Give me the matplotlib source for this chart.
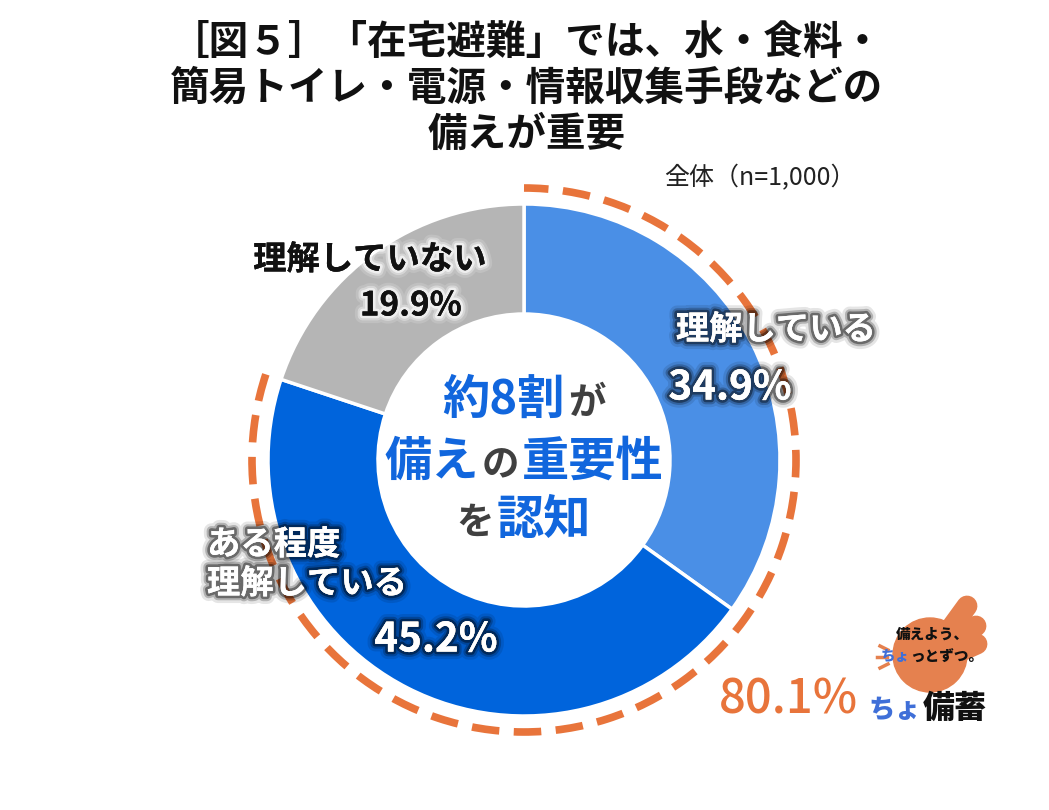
import matplotlib
matplotlib.use("Agg")
import matplotlib.pyplot as plt
import matplotlib.patheffects as pe
from matplotlib.patches import Arc, Circle
from matplotlib.offsetbox import TextArea, HPacker, AnnotationBbox

plt.rcParams['font.family'] = ['Noto Sans CJK JP', 'DejaVu Sans']

# ---- data ----
categories = ["理解している", "ある程度\n理解している", "理解していない"]
values = [34.9, 45.2, 19.9]
colors = ["#4A8FE6", "#0064DC", "#B5B5B5"]
combined_label = "80.1%"
title_lines = ["［図５］「在宅避難」では、水・食料・",
               "簡易トイレ・電源・情報収集手段などの",
               "備えが重要"]
subtitle = "全体（n=1,000）"

W, H = 1049, 810
fig = plt.figure(figsize=(W / 100, H / 100), dpi=100)
ax = fig.add_axes([0, 0, 1, 1])

def Y(y):
    return H - y

cx, cy = 524, Y(460)
R = 256
ring = 110

ax.pie(values, colors=colors, startangle=90, counterclock=False,
       center=(cx, cy), radius=R, frame=True,
       wedgeprops=dict(width=ring, edgecolor='white', linewidth=2.5))
ax.set_xlim(0, W)
ax.set_ylim(0, H)
ax.set_aspect('equal')
ax.axis('off')

# dashed arc covering the two "understand" categories
total = sum(values[:2])
end_ang = 90
start_ang = 90 - total / 100 * 360
arc = Arc((cx, cy), 2 * 272, 2 * 272, theta1=start_ang, theta2=end_ang,
          color="#E8743B", lw=5.5, linestyle=(0, (3.6, 1.9)))
ax.add_patch(arc)

# title
for i, line in enumerate(title_lines):
    ax.text(W / 2 + 2, Y(42 + i * 46), line, ha='center', va='center',
            fontsize=28.5, fontweight='bold', color='#111111')
ax.text(760, Y(178), subtitle, ha='center', va='center', fontsize=18,
        color='#222222')

dark_glow = [pe.withStroke(linewidth=11, foreground=(0, 0, 0, 0.10)),
             pe.withStroke(linewidth=7, foreground=(0, 0, 0, 0.22)),
             pe.withStroke(linewidth=4, foreground=(0, 0, 0, 0.40)),
             pe.Normal()]
white_glow = [pe.withStroke(linewidth=11, foreground=(1, 1, 1, 0.15)),
              pe.withStroke(linewidth=7, foreground=(1, 1, 1, 0.35)),
              pe.withStroke(linewidth=4, foreground=(1, 1, 1, 0.6)),
              pe.Normal()]

# slice labels
ax.text(776, Y(330), categories[0], ha='center', va='center', fontsize=24,
        fontweight='bold', color='white', path_effects=dark_glow)
ax.text(730, Y(388), f"{values[0]}%", ha='center', va='center', fontsize=29,
        fontweight='bold', color='white', path_effects=dark_glow)

l2 = categories[1].split("\n")
ax.text(207, Y(545), l2[0], ha='left', va='center', fontsize=24,
        fontweight='bold', color='white', path_effects=dark_glow)
ax.text(207, Y(584), l2[1], ha='left', va='center', fontsize=24,
        fontweight='bold', color='white', path_effects=dark_glow)
ax.text(436, Y(640), f"{values[1]}%", ha='center', va='center', fontsize=29,
        fontweight='bold', color='white', path_effects=dark_glow)

ax.text(370, Y(260), categories[2], ha='center', va='center', fontsize=24,
        fontweight='bold', color='#111111', path_effects=white_glow)
ax.text(411, Y(306), f"{values[2]}%", ha='center', va='center', fontsize=24,
        fontweight='bold', color='#111111', path_effects=white_glow)

# center text
BLUE = "#1166DD"
GRAY = "#404040"
def packed_line(parts, x, y, sep=2, weight='bold', zorder=5):
    boxes = []
    for txt, col, fs in parts:
        boxes.append(TextArea(txt, textprops=dict(color=col, fontsize=fs,
                                                   fontweight=weight)))
    pack = HPacker(children=boxes, align='baseline', pad=0, sep=sep)
    ab = AnnotationBbox(pack, (x, Y(y)), frameon=False, box_alignment=(0.5, 0.5))
    ab.set_zorder(zorder)
    ax.add_artist(ab)

packed_line([("約8割", BLUE, 34), ("が", GRAY, 27)], cx, 400)
packed_line([("備え", BLUE, 34), ("の", GRAY, 27), ("重要性", BLUE, 34)], cx, 462)
packed_line([("を", GRAY, 27), ("認知", BLUE, 34)], cx, 520)

# combined share
ax.text(788, Y(700), combined_label, ha='center', va='center', fontsize=34,
        color="#E8743B", fontweight='medium')

# logo (approximation)
OR = "#E5814F"
ax.add_patch(Circle((930, Y(655)), 37, color=OR, zorder=3))
for (x0, y0, x1, y1) in [(935, 650, 967, 606), (945, 652, 976, 626), (950, 656, 977, 644)]:
    ax.plot([x0, x1], [Y(y0), Y(y1)], color=OR, lw=15, solid_capstyle='round',
            zorder=3)
for (x0, y0, x1, y1) in [(880, 646, 888, 650), (877, 657, 887, 657), (880, 668, 888, 664)]:
    ax.plot([x0, x1], [Y(y0), Y(y1)], color=OR, lw=2.5, zorder=3)
ax.text(932, Y(634), "備えよう、", ha='center', va='center', fontsize=10.5,
        fontweight='black', color='#111111', zorder=5)
packed_line([("ちょ", '#3F6FD8', 10.5), ("っとずつ。", '#111111', 10.5)],
            932, 657, sep=0, weight='black', zorder=6)
ax.text(895, Y(710), "ちょ", ha='center', va='center', fontsize=19,
        fontweight='black', color='#3F6FD8')
ax.text(955, Y(708), "備蓄", ha='center', va='center', fontsize=23,
        fontweight='black', color='#111111')

fig.savefig("out.png", dpi=100, facecolor='white')
